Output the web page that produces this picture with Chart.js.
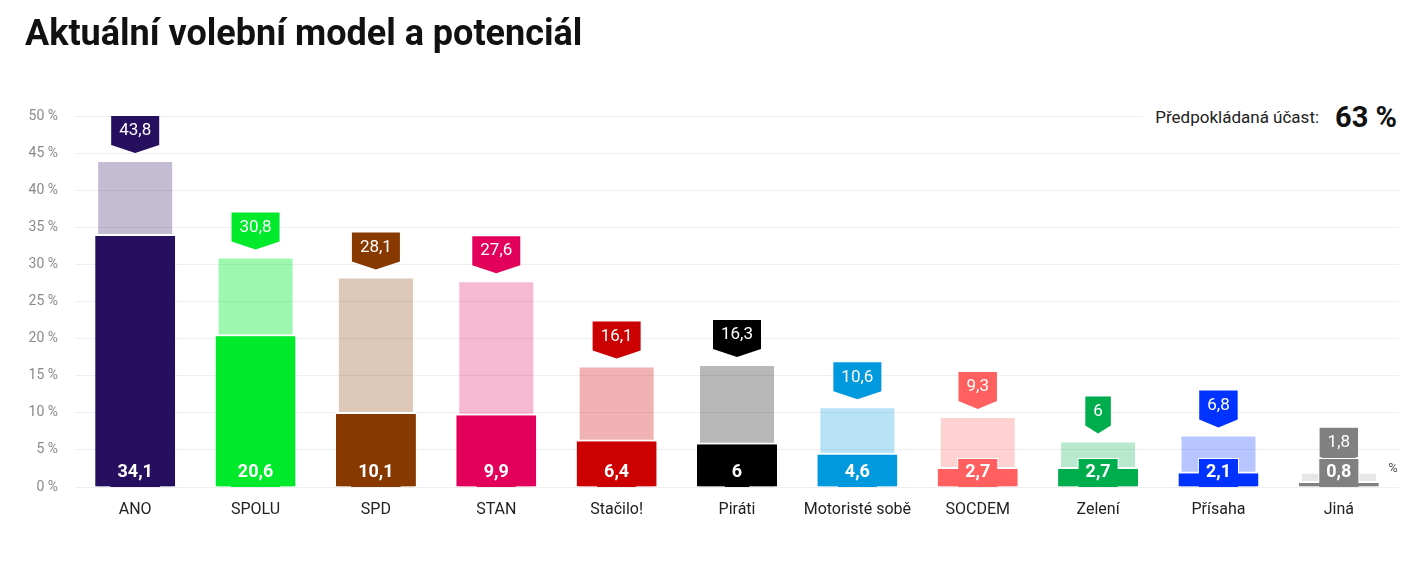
<!DOCTYPE html>
<html lang="cs">
<head>
<meta charset="UTF-8">
<title>Aktuální volební model a potenciál</title>
<style>
  body { margin: 0; background: #fff; font-family: Roboto, sans-serif; }
  #wrap { position: relative; width: 1424px; height: 569px; }
  #wrap canvas { position: absolute; left: 0; top: 0; }
  h1 { position: absolute; left: 25px; top: 12px; margin: 0; font-size: 36px; font-weight: 700; color: #111; letter-spacing: 0; z-index: 2; }
  .turnout { position: absolute; right: 27px; top: 100px; height: 34px; display: flex; align-items: center; background: #fff; padding-left: 12px; color: #222; font-size: 17px; z-index: 2; }
  .turnout b { font-size: 29px; margin-left: 16px; color: #111; }
</style>
</head>
<body>
<div id="wrap">
  <h1>Aktuální volební model a potenciál</h1>
  <div class="turnout"><span>Předpokládaná účast:</span><b>63 %</b></div>
  <canvas id="myChart" width="1424" height="569"></canvas>
</div>

<script src="https://cdn.jsdelivr.net/npm/chart.js"></script>
<script>
// data
const parties = ['ANO', 'SPOLU', 'SPD', 'STAN', 'Stačilo!', 'Piráti', 'Motoristé sobě', 'SOCDEM', 'Zelení', 'Přísaha', 'Jiná'];
const model = [34.1, 20.6, 10.1, 9.9, 6.4, 6, 4.6, 2.7, 2.7, 2.1, 0.8];
const potential = [43.8, 30.8, 28.1, 27.6, 16.1, 16.3, 10.6, 9.3, 6, 6.8, 1.8];
const colors = ['#260f5f', '#00ea2c', '#883900', '#e2005a', '#cc0000', '#000000', '#0099dd', '#ff5f5f', '#00ad4d', '#0033ff', '#808080'];
const lightColors = ['rgba(38,15,95,0.28)', 'rgba(0,234,44,0.38)', 'rgba(136,57,0,0.28)', 'rgba(226,0,90,0.28)',
  'rgba(204,0,0,0.3)', 'rgba(0,0,0,0.28)', 'rgba(0,153,221,0.28)', 'rgba(255,95,95,0.28)',
  'rgba(0,173,77,0.28)', 'rgba(0,51,255,0.28)', 'rgba(128,128,128,0.2)'];
const yTicks = [0, 5, 10, 15, 20, 25, 30, 35, 40, 45, 50];

const fmt = v => String(v).replace('.', ',');

Chart.defaults.font.family = 'Roboto';

// labels on the bars
const labelPlugin = {
  id: 'partyLabels',
  afterDatasetsDraw(chart) {
    const ctx = chart.ctx;
    const y = chart.scales.y;
    const zero = y.getPixelForValue(0);
    const bars = chart.getDatasetMeta(0).data;
    ctx.save();
    ctx.textAlign = 'center';
    ctx.textBaseline = 'middle';
    bars.forEach((bar, i) => {
      const cx = bar.x;
      // potential box with tip
      ctx.font = '17px Roboto';
      const pText = fmt(potential[i]);
      const pw = ctx.measureText(pText).width + 16;
      const top = y.getPixelForValue(potential[i]) - 46;
      ctx.fillStyle = colors[i];
      ctx.beginPath();
      ctx.moveTo(cx - pw / 2, top);
      ctx.lineTo(cx + pw / 2, top);
      ctx.lineTo(cx + pw / 2, top + 29);
      ctx.lineTo(cx, top + 37);
      ctx.lineTo(cx - pw / 2, top + 29);
      ctx.closePath();
      ctx.fill();
      ctx.fillStyle = '#fff';
      ctx.fillText(pText, cx, top + 15);

      // model value box, white edge only where it sticks out above the bar
      ctx.font = 'bold 18px Roboto';
      const mText = fmt(model[i]);
      const mw = ctx.measureText(mText).width + 14;
      if (zero - 28 < bar.y) {
        ctx.save();
        ctx.beginPath();
        ctx.rect(cx - mw, 0, mw * 2, bar.y + 1);
        ctx.clip();
        ctx.strokeStyle = '#fff';
        ctx.lineWidth = 2;
        ctx.strokeRect(cx - mw / 2, zero - 28, mw, 28);
        ctx.restore();
      }
      ctx.fillStyle = colors[i];
      ctx.fillRect(cx - mw / 2, zero - 28, mw, 28);
      ctx.fillStyle = '#fff';
      ctx.fillText(mText, cx, zero - 15);
    });
    ctx.fillStyle = '#555';
    ctx.font = '13px Roboto';
    ctx.fillText('%', chart.chartArea.right - 6, zero - 18);
    ctx.restore();
  }
};

const config = {
  type: 'bar',
  data: {
    labels: parties,
    datasets: [{
      label: 'Volební model',
      data: model,
      backgroundColor: colors,
      borderColor: '#fff',
      borderWidth: { top: 2, left: 0, right: 0, bottom: 0 },
      barPercentage: 0.665,
      categoryPercentage: 1,
      grouped: false,
      order: 1
    }, {
      label: 'Potenciál',
      data: potential,
      backgroundColor: lightColors,
      barPercentage: 0.615,
      categoryPercentage: 1,
      grouped: false,
      order: 2
    }]
  },
  options: {
    responsive: false,
    animation: false,
    layout: { padding: { top: 116, right: 25, left: 0, bottom: 0 } },
    plugins: { legend: { display: false }, tooltip: { enabled: false } },
    scales: {
      x: {
        grid: { display: false },
        border: { display: false },
        ticks: { color: '#222', font: { size: 16 }, padding: 5 },
        afterFit: s => { s.height = 82; }
      },
      y: {
        min: 0,
        max: 50,
        afterBuildTicks: s => { s.ticks = yTicks.map(v => ({ value: v })); },
        ticks: { color: '#8a8a8a', font: { size: 14 }, padding: 17, callback: v => v + ' %' },
        grid: { color: '#efefef', drawTicks: false },
        border: { display: false },
        afterFit: s => { s.width = 75; }
      }
    }
  },
  plugins: [labelPlugin]
};

const myChart = new Chart(document.getElementById('myChart'), config);
</script>
</body>
</html>
